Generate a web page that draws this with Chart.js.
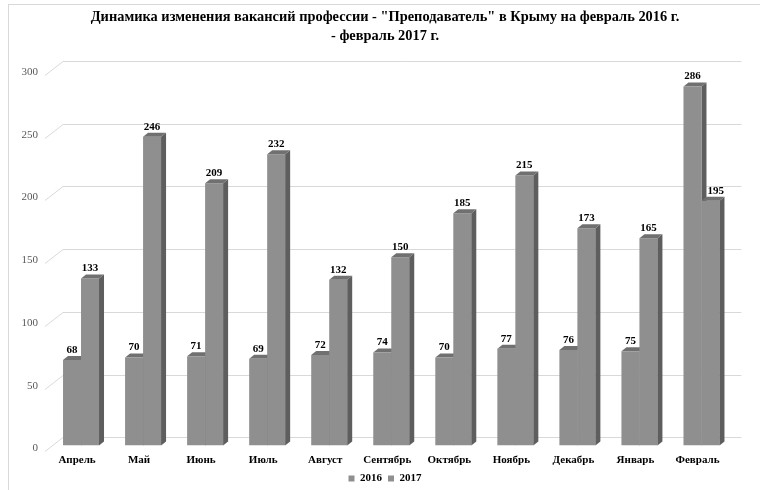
<!DOCTYPE html>
<html lang="ru">
<head>
<meta charset="utf-8">
<title>Вакансии - Преподаватель</title>
<script src="https://cdn.jsdelivr.net/npm/chart.js@4.4.0/dist/chart.umd.min.js"></script>
<style>
  html, body { margin: 0; padding: 0; background: #fff; overflow: hidden; }
  .frame { position: absolute; left: 8px; top: 4px; width: 800px; height: 520px; border: 1px solid #d9d9d9; }
  .wrap { position: absolute; left: 0; top: 0; width: 760px; height: 494px; }
</style>
</head>
<body>
<div class="frame"></div>
<div class="wrap"><canvas id="chart"></canvas></div>
<script>
'use strict';

const months = ['Апрель', 'Май', 'Июнь', 'Июль', 'Август', 'Сентябрь', 'Октябрь', 'Ноябрь', 'Декабрь', 'Январь', 'Февраль'];
const values2016 = [68, 70, 71, 69, 72, 74, 70, 77, 76, 75, 286];
const values2017 = [133, 246, 209, 232, 132, 150, 185, 215, 173, 165, 195];
const yTicks = [0, 50, 100, 150, 200, 250, 300];
const titleLines = ['Динамика изменения вакансий профессии - "Преподаватель" в Крыму на февраль 2016 г.', '- февраль 2017 г.'];

const SERIF = "'Liberation Serif', 'Times New Roman', serif";
const DX = 5;
const DY = 4;

function drawFaces(ctx, bars) {
  bars.forEach(function (bar) {
    const l = bar.x - bar.width / 2;
    const r = bar.x + bar.width / 2;
    const t = bar.y;
    const b = bar.base;
    ctx.fillStyle = '#5e5e5e';
    ctx.beginPath();
    ctx.moveTo(r, t);
    ctx.lineTo(r + DX, t - DY);
    ctx.lineTo(r + DX, b - DY);
    ctx.lineTo(r, b);
    ctx.closePath();
    ctx.fill();
    ctx.fillStyle = '#707070';
    ctx.beginPath();
    ctx.moveTo(l, t);
    ctx.lineTo(l + DX, t - DY);
    ctx.lineTo(r + DX, t - DY);
    ctx.lineTo(r, t);
    ctx.closePath();
    ctx.fill();
  });
}

// fake 3d: back wall grid, side and top faces, value labels
// chart.js draws dataset 1 first, then dataset 0, so the 2016 faces go in
// before anything and get covered by the 2017 fronts
const bar3d = {
  id: 'bar3d',
  beforeDatasetsDraw(chart) {
    const ctx = chart.ctx;
    const y = chart.scales.y;
    const area = chart.chartArea;
    ctx.save();
    ctx.strokeStyle = '#d9d9d9';
    ctx.lineWidth = 1;
    y.ticks.forEach(function (t) {
      const yb = Math.round(y.getPixelForValue(t.value)) + 0.5;
      ctx.beginPath();
      ctx.moveTo(area.left - 5, yb + 6);
      ctx.lineTo(area.left + 13, yb - 8);
      ctx.lineTo(area.right + 9, yb - 8);
      ctx.stroke();
    });
    drawFaces(ctx, chart.getDatasetMeta(0).data);
    ctx.restore();
  },
  afterDatasetDraw(chart, args) {
    if (args.index !== 1) return;
    chart.ctx.save();
    drawFaces(chart.ctx, args.meta.data);
    chart.ctx.restore();
  },
  afterDatasetsDraw(chart) {
    const ctx = chart.ctx;
    ctx.save();
    ctx.font = 'bold 11px ' + SERIF;
    ctx.fillStyle = '#000';
    ctx.textAlign = 'center';
    ctx.textBaseline = 'middle';
    const first = chart.getDatasetMeta(0).data;
    chart.data.datasets.forEach(function (ds, i) {
      chart.getDatasetMeta(i).data.forEach(function (bar, j) {
        const text = String(ds.data[j]);
        let x = bar.x;
        // move a label right when the taller neighbour's side face is in the way
        if (i === 1 && first[j].y < bar.y - 4) {
          const clear = bar.x - bar.width / 2 + DX + 1;
          const left = x - ctx.measureText(text).width / 2;
          if (left < clear) x += clear - left;
        }
        ctx.fillText(text, x, bar.y - 10);
      });
    });
    ctx.restore();
  }
};

new Chart(document.getElementById('chart'), {
  type: 'bar',
  data: {
    labels: months,
    datasets: [
      {
        label: '2016',
        data: values2016,
        backgroundColor: '#8f8f8f',
        borderWidth: 0,
        categoryPercentage: 0.58,
        barPercentage: 1.0,
      },
      {
        label: '2017',
        data: values2017,
        backgroundColor: '#8f8f8f',
        borderWidth: 0,
        categoryPercentage: 0.58,
        barPercentage: 1.0,
      },
    ],
  },
  options: {
    responsive: true,
    maintainAspectRatio: false,
    animation: false,
    layout: {
      padding: { left: 10, right: 0, top: 0, bottom: 0 },
    },
    plugins: {
      title: {
        display: true,
        text: titleLines,
        color: '#000',
        font: { family: SERIF, size: 14.4, weight: 'bold', lineHeight: 1.3 },
        padding: { top: 8, bottom: 23.5 },
      },
      legend: {
        position: 'bottom',
        labels: {
          color: '#000',
          font: { family: SERIF, size: 11, weight: 'bold' },
          boxWidth: 6,
          boxHeight: 6,
          padding: 6,
        },
      },
      tooltip: { enabled: false },
    },
    scales: {
      x: {
        grid: { display: false, drawTicks: false, tickLength: 0 },
        border: { display: false },
        afterFit: function (scale) {
          scale.height = 21.6;
        },
        ticks: {
          color: '#000',
          font: { family: SERIF, size: 11, weight: 'bold' },
          padding: 8.4,
          labelOffset: -4,
          maxRotation: 0,
          autoSkip: false,
        },
      },
      y: {
        min: 0,
        max: 300,
        grid: { display: false, drawTicks: false, tickLength: 0 },
        border: { display: false },
        afterBuildTicks: function (scale) {
          scale.ticks = yTicks.map(function (v) { return { value: v }; });
        },
        afterFit: function (scale) {
          scale.width = 40;
        },
        ticks: {
          color: '#595959',
          font: { family: SERIF, size: 11 },
          padding: 12,
          labelOffset: 3,
        },
      },
      // empty axis only to keep the plot off the right edge
      y2: {
        position: 'right',
        grid: { display: false, drawTicks: false, tickLength: 0 },
        border: { display: false },
        ticks: { display: false },
        afterFit: function (scale) {
          scale.width = 27.5;
        },
      },
    },
  },
  plugins: [bar3d],
});
</script>
</body>
</html>
